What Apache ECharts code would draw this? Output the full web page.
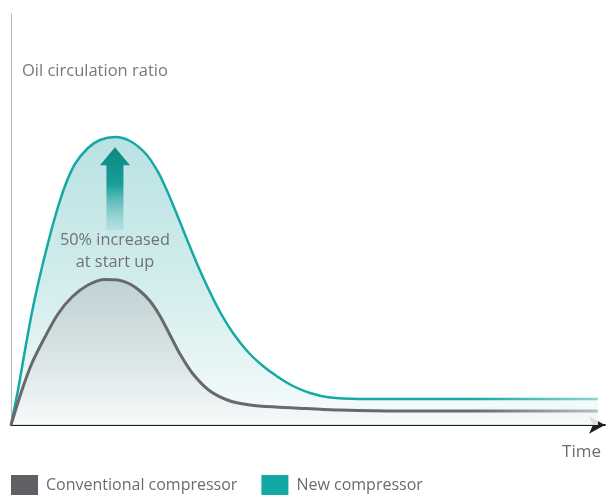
<!DOCTYPE html>
<html>
<head>
<meta charset="utf-8">
<script src="https://cdn.jsdelivr.net/npm/echarts@6/dist/echarts.min.js"></script>
<style>html,body{margin:0;padding:0;background:#fff}#c{width:610px;height:496px}</style>
</head>
<body>
<div id="c"></div>
<script>
// Time (arbitrary units, 0..100) and oil circulation ratio (arbitrary units, 0..100)
const newTime  = [0, 1.18, 2.36, 3.54, 4.71, 5.89, 7.41, 9.09, 10.77, 12.96, 14.98, 17.51, 20.03, 22.73, 24.75, 26.43, 28.11, 29.80, 31.48, 33.16, 35.19, 37.37, 39.90, 42.42, 44.95, 47.47, 50.34, 53.70, 58.75, 70, 85, 98.8];
const newRatio = [0, 8.52, 18.25, 27.49, 35.28, 42.34, 50.61, 58.15, 63.50, 67.40, 69.34, 70.07, 69.10, 65.94, 61.56, 56.45, 50.61, 44.53, 38.69, 33.33, 27.49, 22.38, 17.76, 14.36, 11.68, 9.49, 7.79, 6.69, 6.33, 6.3, 6.3, 6.3];
const convTime  = [0, 1.85, 3.54, 5.72, 7.91, 10.27, 12.96, 15.82, 18.01, 20.03, 21.72, 23.40, 25.08, 26.77, 28.45, 30.64, 33.50, 36.87, 40.24, 44.44, 49.83, 55.39, 65.49, 80, 98.8];
const convRatio = [0, 8.52, 15.09, 21.41, 27.01, 31.14, 34.06, 35.40, 35.28, 34.31, 32.60, 30.17, 26.52, 21.90, 17.27, 12.41, 8.27, 5.84, 4.87, 4.38, 4.01, 3.65, 3.41, 3.4, 3.4];
const seriesNames = ['Conventional compressor', 'New compressor'];
const yTitle = 'Oil circulation ratio';
const xTitle = 'Time';
const noteText = '50% increased\nat start up';
const arrowAt = [17.5, 57.5];
const noteAt = [17.5, 42.3];

const zip = (a, b) => a.map((v, i) => [v, b[i]]);
const FONT = '"Open Sans", "Noto Sans", sans-serif';
const hGrad = (c1, c2) => new echarts.graphic.LinearGradient(0, 0, 1, 0, [
  {offset: 0, color: c1}, {offset: 0.78, color: c1}, {offset: 1, color: c2}
]);

const chart = echarts.init(document.getElementById('c'), null, {renderer: 'canvas'});
chart.setOption({
  animation: false,
  backgroundColor: '#ffffff',
  grid: {left: 11, right: 5, top: 14, bottom: 71},
  xAxis: {
    type: 'value', min: 0, max: 100,
    axisLine: {show: true, lineStyle: {color: '#1e1e1e', width: 1.8}, symbol: ['none', 'arrow'], symbolSize: [13, 16]},
    axisTick: {show: false}, axisLabel: {show: false}, splitLine: {show: false}
  },
  yAxis: {
    type: 'value', min: 0, max: 100,
    axisLine: {show: true, onZero: false, lineStyle: {color: '#b8b8b8', width: 1}},
    axisTick: {show: false}, axisLabel: {show: false}, splitLine: {show: false}
  },
  legend: {
    data: seriesNames.map((n, i) => ({name: n, itemStyle: {color: i === 0 ? '#5f6066' : '#12a8a3'}})),
    left: 11, top: 475, padding: 0, icon: 'rect', itemWidth: 27, itemHeight: 20, itemGap: 24,
    textStyle: {fontFamily: FONT, fontSize: 16, color: '#6b6b70', padding: [0, 0, 0, 3]}
  },
  graphic: [
    {type: 'text', left: 22, top: 63, style: {text: yTitle, font: '16.5px ' + FONT, fill: '#77787c'}},
    {type: 'text', right: 9, top: 444, style: {text: xTitle, font: '17px ' + FONT, fill: '#6b6b70'}}
  ],
  series: [
    {
      name: seriesNames[1], type: 'line', data: zip(newTime, newRatio),
      smooth: 0.3, symbol: 'none',
      lineStyle: {color: hGrad('#14a9a4', '#8ed3d0'), width: 2.5},
      itemStyle: {color: '#12a8a3'},
      areaStyle: {color: new echarts.graphic.LinearGradient(0, 0, 0, 1, [
        {offset: 0, color: '#9cd5d6'}, {offset: 0.5, color: '#bfe4e4'}, {offset: 1, color: '#f3fafa'}
      ])},
      markPoint: {
        silent: true,
        data: [
          {coord: arrowAt, symbol: 'path://M15,0 L30,18 L23.5,18 L23.5,83 L6.5,83 L6.5,18 L0,18 Z',
           symbolSize: [30, 83], symbolKeepAspect: false,
           itemStyle: {color: new echarts.graphic.LinearGradient(0, 0, 0, 1, [
             {offset: 0, color: '#0b8880'}, {offset: 0.45, color: '#169f99'}, {offset: 1, color: 'rgba(150,212,212,0.4)'}
           ])},
           label: {show: false}},
          {coord: noteAt, symbol: 'circle', symbolSize: 0, itemStyle: {color: 'transparent'},
           label: {show: true, position: 'inside', formatter: noteText, fontFamily: FONT, fontSize: 16.3,
                   lineHeight: 22, color: '#707176', align: 'center', verticalAlign: 'middle'}}
        ]
      }
    },
    {
      name: seriesNames[0], type: 'line', data: zip(convTime, convRatio),
      smooth: 0.3, symbol: 'none',
      lineStyle: {color: hGrad('#68686d', '#bdbdc0'), width: 3},
      itemStyle: {color: '#5f6066'},
      areaStyle: {color: new echarts.graphic.LinearGradient(0, 0, 0, 1, [
        {offset: 0, color: 'rgba(160,172,176,0.55)'}, {offset: 1, color: 'rgba(248,250,250,0.9)'}
      ])}
    }
  ]
});
</script>
</body>
</html>
